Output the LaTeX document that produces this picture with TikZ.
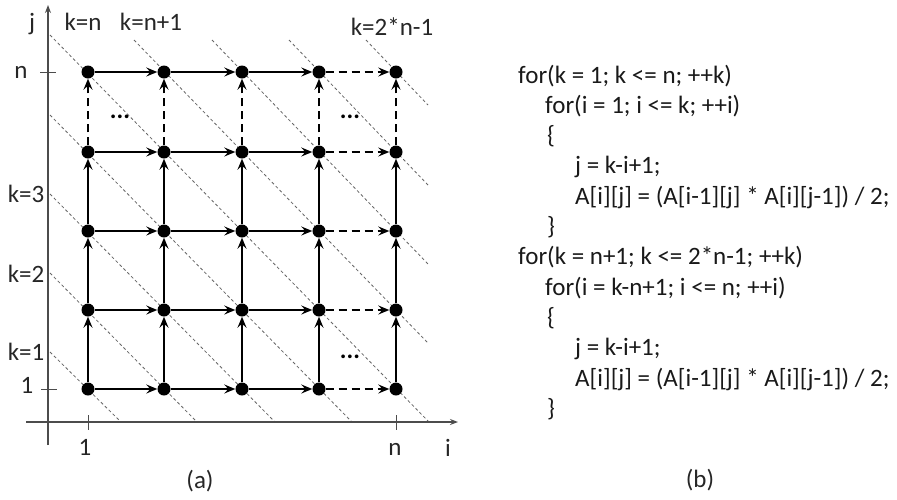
\documentclass[tikz,border=0pt]{standalone}
\usepackage{fontspec}
\setmainfont{Carlito}
\usetikzlibrary{arrows.meta,calc}
\pgfdeclarelayer{bg}
\pgfsetlayers{bg,main}
\begin{document}
\begin{tikzpicture}[x=1pt,y=-1pt,
  dot/.style={circle,fill=black,inner sep=0pt,minimum size=13pt},
  arr/.style={line width=1.5pt,-{Stealth[length=11pt,width=9pt,inset=4pt]}},
  darr/.style={arr,dash pattern=on 8pt off 5pt},
  diag/.style={black!60,line width=0.8pt,dash pattern=on 3pt off 2.5pt},
  axisline/.style={line width=1.3pt,black!70,-{Stealth[length=8pt,width=6pt]}},
  tick/.style={line width=1pt,black!70},
  lab/.style={font=\fontsize{25}{30}\selectfont,inner sep=0pt,anchor=base,text=black!85},
  ell/.style={font=\fontsize{25}{30}\selectfont\bfseries,inner sep=0pt,anchor=base},
  code/.style={font=\fontsize{25}{30}\selectfont,inner sep=0pt,anchor=base west,text=black!90}
]
\useasboundingbox (0,0) rectangle (897,499);

% grid nodes
\foreach \i/\x in {1/88,2/164,3/242,4/319,5/396}
  \foreach \j/\y in {1/389,2/310,3/231,4/152,5/72}
    \node[dot] (g-\i-\j) at (\x,\y) {};

% diagonal guide lines
\begin{pgfonlayer}{bg}
  \foreach \k in {1,...,5}
    \draw[diag] ($(g-1-\k)+(-38,-37)$) -- ($(g-\k-1)+(33,33)$);
  \foreach \m in {2,...,5}
    \draw[diag] ($(g-\m-5)+(-30,-32)$) -- ($(g-5-\m)+(32,33)$);
\end{pgfonlayer}

% horizontal connectors
\foreach \j in {1,...,5} {
  \foreach \i [count=\n from 2] in {1,2,3}
    \draw[arr] (g-\i-\j) -- (g-\n-\j);
  \draw[darr] (g-4-\j) -- (g-5-\j);
}
% vertical connectors
\foreach \i in {1,...,5} {
  \foreach \j [count=\n from 2] in {1,2,3}
    \draw[arr] (g-\i-\j) -- (g-\i-\n);
  \draw[darr] (g-\i-4) -- (g-\i-5);
}

% axes
\draw[axisline] (48,445) -- (48,5);
\draw[axisline] (26,422) -- (458,422);
\draw[tick] (40,72) -- (56,72);
\draw[tick] (41,389) -- (57,389);
\draw[tick] (88,415) -- (88,430);
\draw[tick] (396,415) -- (396,430);

% ellipses
\node[ell] (e1) at (120,118) {...};
\node[ell] (e2) at (350,118) {...};
\node[ell] (e3) at (350,358) {...};

% labels
\node[lab] (lj) at (32,30) {j};
\node[lab] (lkn) at (83,30) {k=n};
\node[lab] (lkn1) at (151,30) {k=n+1};
\node[lab] (lk2n) at (392,35) {k=2*n-1};
\node[lab] (ln) at (21,78) {n};
\node[lab] (l1) at (27,393) {1};
\node[lab] (lk3) at (26,202) {k=3};
\node[lab] (lk2) at (26,282) {k=2};
\node[lab] (lk1) at (26,360) {k=1};
\node[lab] (b1) at (85,455) {1};
\node[lab] (bn) at (395,455) {n};
\node[lab] (bi) at (448,456) {i};
\node[lab] (ca) at (200,488) {(a)};
\node[lab] (cb) at (700,487) {(b)};

% code
\node[code] (c1)  at (518,83.0)  {for(k = 1; k <= n; ++k)};
\node[code] (c2)  at (545,113.3) {for(i = 1; i <= k; ++i)};
\node[code] (c3)  at (547,143.6) {\{};
\node[code] (c4)  at (575,173.9) {j = k-i+1;};
\node[code] (c5)  at (575,204.2) {A[i][j] = (A[i-1][j] * A[i][j-1]) / 2;};
\node[code] (c6)  at (547,234.5) {\}};
\node[code] (c7)  at (518,264.8) {for(k = n+1; k <= 2*n-1; ++k)};
\node[code] (c8)  at (545,295.1) {for(i = k-n+1; i <= n; ++i)};
\node[code] (c9)  at (547,325.4) {\{};
\node[code] (c10) at (575,355.7) {j = k-i+1;};
\node[code] (c11) at (575,386.0) {A[i][j] = (A[i-1][j] * A[i][j-1]) / 2;};
\node[code] (c12) at (547,416.3) {\}};
\end{tikzpicture}
\end{document}
